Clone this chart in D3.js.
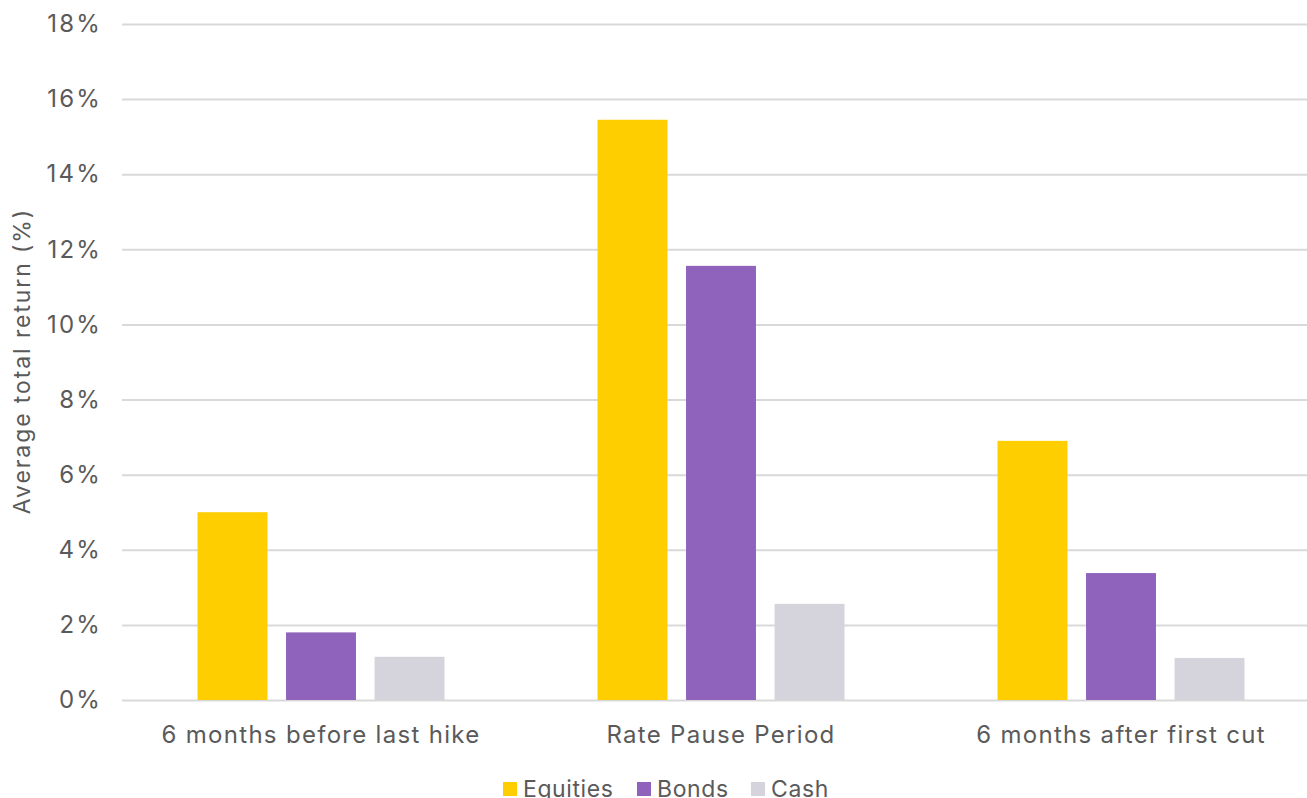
<!DOCTYPE html>
<html>
<head>
<meta charset="utf-8">
<script src="https://cdn.jsdelivr.net/npm/d3@7"></script>
<style>
  html, body { margin: 0; padding: 0; background: #fff; }
  svg { display: block; font-family: Inter, "Open Sans", sans-serif; }
</style>
</head>
<body>
<svg id="chart" width="1307" height="798"></svg>
<script>
// Average total return by rate-cycle period
const categories = ["6 months before last hike", "Rate Pause Period", "6 months after first cut"];
const seriesNames = ["Equities", "Bonds", "Cash"];
const equities = [5.0, 15.45, 6.9];
const bonds = [1.8, 11.56, 3.38];
const cash = [1.15, 2.56, 1.12];
const yTicks = [0, 2, 4, 6, 8, 10, 12, 14, 16, 18];
const colors = ["#FFCE00", "#8F63BB", "#D5D4DD"];

const seriesValues = [equities, bonds, cash];

const svg = d3.select("#chart");
const textColor = "#5a5a5a";

const y = d3.scaleLinear().domain([0, 18]).range([700, 24]);
const x0 = d3.scaleBand().domain(categories).range([121, 1321]).padding(0);
const x1 = d3.scaleBand().domain(seriesNames).range([0, 247]).paddingInner(0.21).paddingOuter(0);
const groupOffset = (x0.bandwidth() - 247) / 2;

// gridlines + y labels
const yAxis = d3.axisLeft(y)
  .tickValues(yTicks)
  .tickSize(-(1307 - 122))
  .tickPadding(20)
  .tickFormat(d => d + "%");

const gy = svg.append("g").attr("transform", "translate(122,0)").call(yAxis);
gy.select(".domain").remove();
gy.selectAll(".tick line").attr("stroke", "#d9d9d9").attr("stroke-width", 2);
gy.selectAll(".tick text")
  .attr("fill", textColor)
  .attr("font-size", 24)
  .attr("letter-spacing", "2.2px")
  .attr("font-family", "Inter, 'Open Sans', sans-serif");

// bars
const groups = svg.append("g").selectAll("g")
  .data(categories)
  .join("g")
  .attr("transform", d => `translate(${x0(d) + groupOffset},0)`);

groups.selectAll("rect")
  .data((c, i) => seriesNames.map((s, j) => ({ s, v: seriesValues[j][i], j })))
  .join("rect")
  .attr("x", d => x1(d.s))
  .attr("width", x1.bandwidth())
  .attr("y", d => y(d.v))
  .attr("height", d => y(0) - y(d.v))
  .attr("fill", d => colors[d.j]);

// x labels
const xAxis = d3.axisBottom(x0).tickSize(0).tickPadding(0);
const gx = svg.append("g").attr("transform", "translate(0,700)").call(xAxis);
gx.select(".domain").remove();
gx.selectAll(".tick text")
  .attr("fill", textColor)
  .attr("font-size", 24)
  .attr("letter-spacing", "1.3px")
  .attr("font-family", "Inter, 'Open Sans', sans-serif")
  .attr("dy", null)
  .attr("y", 43);

// y axis title
svg.append("text")
  .attr("transform", "translate(30,361) rotate(-90)")
  .attr("text-anchor", "middle")
  .attr("fill", textColor)
  .attr("font-size", 23)
  .attr("letter-spacing", "1.9px")
  .text("Average total return (%)");

// legend
const legendX = [503, 637, 751];
const legend = svg.append("g").selectAll("g")
  .data(seriesNames)
  .join("g")
  .attr("transform", (d, i) => `translate(${legendX[i]},782)`);
legend.append("rect").attr("width", 14).attr("height", 14).attr("fill", (d, i) => colors[i]);
legend.append("text")
  .attr("x", 20)
  .attr("y", 15)
  .attr("fill", textColor)
  .attr("font-size", 23)
  .attr("letter-spacing", "0.6px")
  .text(d => d);
</script>
</body>
</html>
